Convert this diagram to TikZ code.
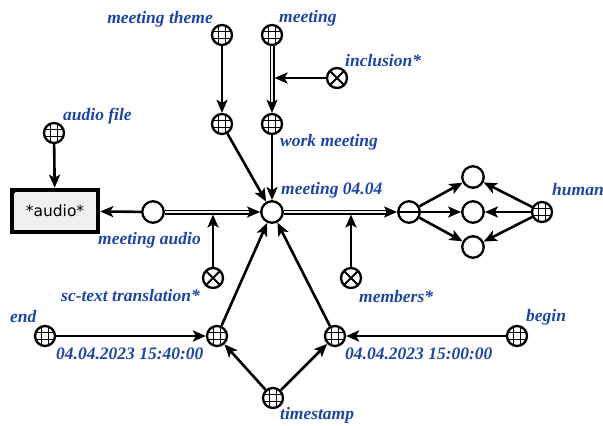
\documentclass[tikz,border=0pt]{standalone}
\usepackage{fontspec}
\setmainfont{Liberation Serif}
\newfontfamily\boxfont{DejaVu Sans}
\usetikzlibrary{arrows.meta,calc}
\definecolor{lblue}{RGB}{30,70,160}
\begin{document}
\begin{tikzpicture}[x=1pt,y=-1pt,
  lbl/.style={font=\fontsize{17.5}{19}\selectfont\bfseries\itshape, text=lblue, inner sep=0pt, anchor=west},
  basenode/.style={circle, draw, line width=2.3pt, minimum size=20pt, inner sep=0pt},
  gridnode/.style={basenode, path picture={
      \foreach \d in {-3.4,3.4}{
        \draw[line width=1.1pt] ([xshift=\d pt]path picture bounding box.north) -- ([xshift=\d pt]path picture bounding box.south);
        \draw[line width=1.1pt] ([yshift=\d pt]path picture bounding box.west) -- ([yshift=\d pt]path picture bounding box.east);
      }}},
  xornode/.style={basenode, path picture={
      \draw[line width=2pt] (path picture bounding box.north west) -- (path picture bounding box.south east)
        (path picture bounding box.north east) -- (path picture bounding box.south west);}},
  plainnode/.style={basenode, minimum size=21.5pt},
  minusnode/.style={plainnode, path picture={
      \draw[line width=1.6pt] (path picture bounding box.west) -- (path picture bounding box.east);}},
  filebox/.style={draw, line width=4.5pt, fill=gray!12, minimum width=86pt, minimum height=42pt, inner sep=0pt,
      font=\boxfont\fontsize{15.5}{17}\selectfont},
  arr/.style={line width=2.6pt, -{Stealth[length=13pt,width=11pt,inset=3pt]}},
  dbl/.style={line width=1.3pt, double=gray!12, double distance=2.4pt}
]
\useasboundingbox (0,0) rectangle (603,426);

% nodes
\node[gridnode] (mtheme) at (222,35) {};
\node[gridnode] (meeting) at (272,35) {};
\node[xornode] (incl) at (337,78) {};
\node[gridnode] (theme) at (222,124) {};
\node[gridnode] (work) at (272,124) {};
\node[gridnode] (afile) at (54,133) {};
\node[filebox] (audiobox) at (55,211) {*audio*};
\fill (audiobox.north west) ++(2pt,-2pt) -- ++(6pt,0pt) -- ++(-6pt,-6pt) -- cycle;
\node[plainnode] (ma) at (153,212) {};
\node[plainnode] (m04) at (272,212) {};
\node[xornode] (sct) at (213,278) {};
\node[xornode] (members) at (351,278) {};
\node[minusnode] (minus) at (409,212) {};
\node[plainnode] (ctop) at (473,177) {};
\node[plainnode] (cmid) at (473,212) {};
\node[plainnode] (cbot) at (473,247) {};
\node[gridnode] (human) at (542,212) {};
\node[gridnode] (endn) at (45,336) {};
\node[gridnode] (t1540) at (217,336) {};
\node[gridnode] (t1500) at (335,336) {};
\node[gridnode] (beginn) at (517,336) {};
\node[gridnode] (ts) at (273,398) {};

% labels
\node[lbl, anchor=east] (l-mtheme) at (213,19) {meeting theme};
\node[lbl] (l-meeting) at (279,18) {meeting};
\node[lbl] (l-incl) at (345,61) {inclusion*};
\node[lbl] (l-work) at (280,142) {work meeting};
\node[lbl] (l-afile) at (63,116) {audio file};
\node[lbl] (l-ma) at (98,240) {meeting audio};
\node[lbl] (l-m04) at (281,190) {meeting 04.04};
\node[lbl] (l-human) at (552,190) {human};
\node[lbl] (l-sct) at (61,296) {sc-text translation*};
\node[lbl] (l-members) at (359,297) {members*};
\node[lbl] (l-end) at (10,317) {end};
\node[lbl] (l-t1540) at (56,354) {04.04.2023 15:40:00};
\node[lbl] (l-t1500) at (345,354) {04.04.2023 15:00:00};
\node[lbl] (l-begin) at (526,317) {begin};
\node[lbl] (l-ts) at (280,415) {timestamp};

% connectors
\draw[arr] (mtheme) -- (theme);
\draw[dbl, shorten >=9pt] (meeting) -- (work);
\draw[arr] ($(work.north)+(0pt,11pt)$) -- (work.north);
\draw[arr, shorten >=2.5pt] (incl) -- (incl -| meeting);
\draw[arr] (theme) -- (m04);
\draw[arr] (work) -- (m04);
\draw[arr] (afile) -- (audiobox);
\draw[arr] (ma) -- (audiobox);
\draw[dbl, shorten >=9pt] (ma) -- (m04);
\draw[arr] ($(m04.west)+(-11pt,0pt)$) -- (m04.west);
\draw[arr, shorten >=2.5pt] (sct) -- (sct |- m04);
\draw[dbl, shorten >=9pt] (m04) -- (minus);
\draw[arr] ($(minus.west)+(-11pt,0pt)$) -- (minus.west);
\draw[arr, shorten >=2.5pt] (members) -- (members |- m04);
\draw[arr] (minus) -- (ctop);
\draw[arr] (minus) -- (cmid);
\draw[arr] (minus) -- (cbot);
\draw[arr] (human) -- (ctop);
\draw[arr] (human) -- (cmid);
\draw[arr] (human) -- (cbot);
\draw[arr] (t1540) -- (m04);
\draw[arr] (t1500) -- (m04);
\draw[arr] (endn) -- (t1540);
\draw[arr] (beginn) -- (t1500);
\draw[arr] (ts) -- (t1540);
\draw[arr] (ts) -- (t1500);
\end{tikzpicture}
\end{document}
